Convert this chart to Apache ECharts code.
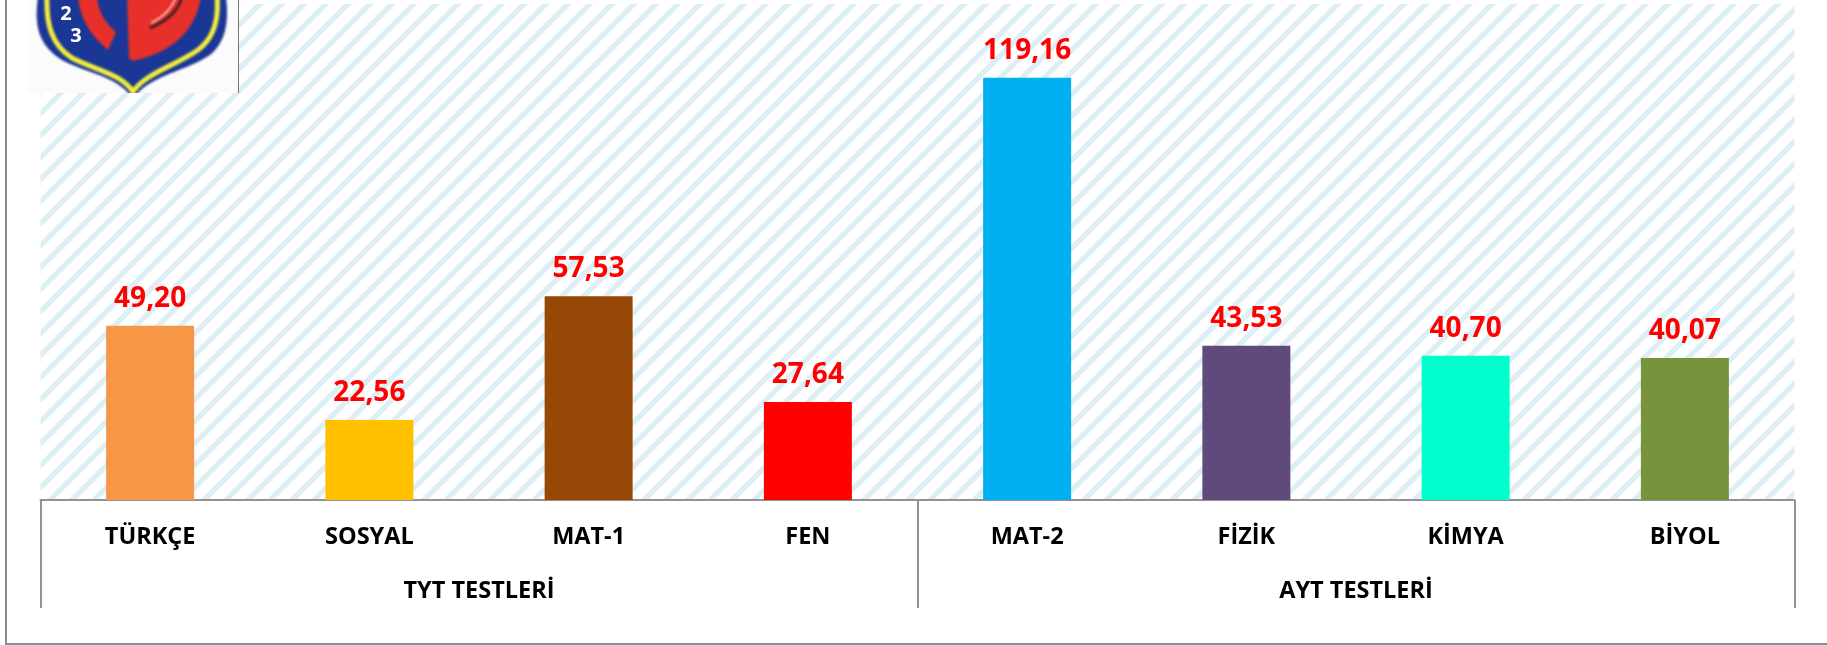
<!DOCTYPE html>
<html><head><meta charset="utf-8">
<style>html,body{margin:0;padding:0;background:#fff}#c{width:1827px;height:645px}</style>
<script src="https://cdn.jsdelivr.net/npm/echarts@6/dist/echarts.min.js"></script>
</head><body><div id="c"></div>
<script>
const categories = ['TÜRKÇE','SOSYAL','MAT-1','FEN','MAT-2','FİZİK','KİMYA','BİYOL'];
const groups = ['TYT TESTLERİ','AYT TESTLERİ'];
const values = [49.20,22.56,57.53,27.64,119.16,43.53,40.70,40.07];
const colors = ['#F79646','#FFC000','#974706','#FF0000','#00B0F0','#604A7B','#00FFCC','#77933C'];

const tile = document.createElement('canvas');
tile.width = 22; tile.height = 22;
const t = tile.getContext('2d');
t.fillStyle = '#fff'; t.fillRect(0,0,22,22);
t.strokeStyle = '#DDEFF5'; t.lineWidth = 5.4;
[[-22,22,22,-22],[0,22,22,0],[0,44,44,0]].forEach(a=>{t.beginPath();t.moveTo(a[0],a[1]);t.lineTo(a[2],a[3]);t.stroke();});

// Club crest, painted once into an offscreen canvas (origin at page x=28, y=0)
const logo = document.createElement('canvas');
logo.width = 210; logo.height = 93;
const g = logo.getContext('2d');
g.fillStyle = '#fbfbfb'; g.fillRect(0,0,210,93);
g.filter = 'blur(0.8px)';
g.translate(-28,0);
g.fillStyle = '#1B3796';
g.beginPath(); g.moveTo(38,-3);
g.bezierCurveTo(34,25,38,45,62,60); g.bezierCurveTo(85,73,120,76,133,100);
g.bezierCurveTo(146,76,185,72,210,55); g.bezierCurveTo(226,42,229,22,226,-3); g.closePath(); g.fill();
g.strokeStyle = '#F2EC3C'; g.lineWidth = 5;
g.beginPath(); g.moveTo(47,-3);
g.bezierCurveTo(46,25,52,45,72,58); g.bezierCurveTo(95,70,122,74,133,92);
g.bezierCurveTo(144,74,175,66,198,50); g.bezierCurveTo(214,38,219,20,217,-3); g.stroke();
g.fillStyle = '#E8302A';
g.beginPath(); g.moveTo(78,-3); g.bezierCurveTo(80,18,90,35,108,50); g.lineTo(116,32);
g.bezierCurveTo(106,24,98,12,97,-3); g.closePath(); g.fill();
g.beginPath(); g.moveTo(127,-3); g.lineTo(129,58); g.lineTo(133,61);
g.bezierCurveTo(160,55,194,40,201,-3); g.closePath(); g.fill();
g.strokeStyle = '#222'; g.lineWidth = 2.5;
g.beginPath(); g.moveTo(182,-3); g.bezierCurveTo(178,12,165,22,150,28); g.stroke();
g.strokeStyle = '#fff'; g.lineWidth = 1.2;
g.beginPath(); g.moveTo(176,-3); g.bezierCurveTo(172,8,163,17,151,23); g.stroke();

const font = '"Open Sans", sans-serif';
const chart = echarts.init(document.getElementById('c'));
const axisStyle = {lineStyle:{color:'#929292',width:2}};
chart.setOption({
  animation:false,
  grid:{left:40.5,right:32.5,top:4,bottom:145,show:true,borderWidth:0,backgroundColor:{image:tile,repeat:'repeat'}},
  xAxis:[
    {type:'category',data:categories,position:'bottom',axisLine:{show:true,...axisStyle},axisTick:{show:false},
     axisLabel:{interval:0,margin:25,color:'#000',fontFamily:font,fontWeight:'bold',fontSize:23.5}},
    {type:'category',data:groups,position:'bottom',axisLine:{show:false},
     axisTick:{show:true,length:108,...axisStyle},
     axisLabel:{interval:0,margin:79,color:'#000',fontFamily:font,fontWeight:'bold',fontSize:23.5}}
  ],
  yAxis:{type:'value',min:0,max:140,show:false},
  series:[{type:'bar',barWidth:88,xAxisIndex:0,
    data:values.map((v,i)=>({value:v,itemStyle:{color:colors[i]}})),
    label:{show:true,position:'top',distance:13,color:'#FF0000',fontFamily:font,fontWeight:'bold',fontSize:28,
      formatter:p=>p.value.toFixed(2).replace('.',',')}}],
  graphic:[
    {type:'line',shape:{x1:6,y1:0,x2:6,y2:644},style:{stroke:'#8c8c8c',lineWidth:2},z:10},
    {type:'line',shape:{x1:5,y1:644,x2:1827,y2:644},style:{stroke:'#8c8c8c',lineWidth:2},z:10},
    {type:'image',x:28,y:0,z:20,style:{image:logo,width:210,height:93}},
    {type:'line',shape:{x1:238.5,y1:0,x2:238.5,y2:93},style:{stroke:'#777',lineWidth:1},z:21},
    {type:'text',z:25,x:66,y:14,style:{text:'2',fill:'#fff',font:'bold 20px "Open Sans"',textAlign:'center',textVerticalAlign:'middle'}},
    {type:'text',z:25,x:76,y:36,style:{text:'3',fill:'#fff',font:'bold 20px "Open Sans"',textAlign:'center',textVerticalAlign:'middle'}}
  ]
});
</script></body></html>
